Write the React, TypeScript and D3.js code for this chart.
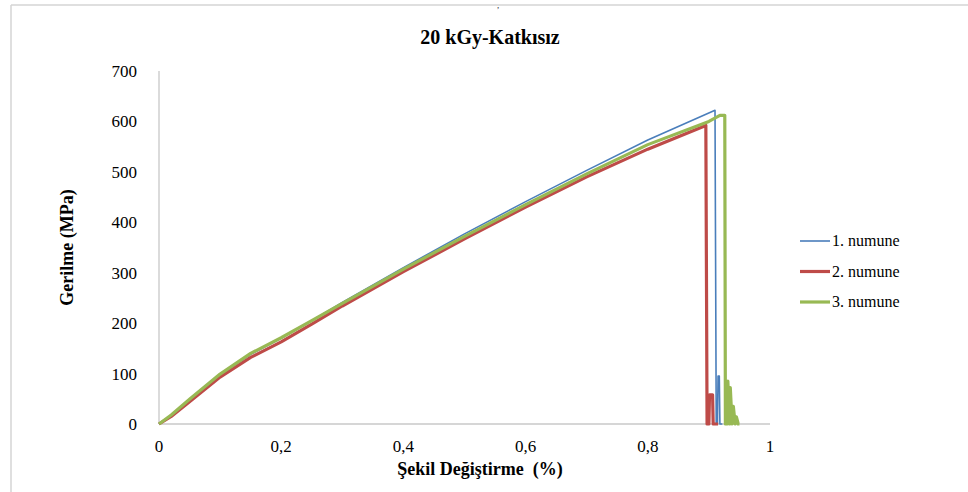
import React from "react";
import * as d3 from "d3";

// Stress–strain data for three unfilled samples irradiated at 20 kGy
const strain1 = [0, 0.02, 0.05, 0.1, 0.15, 0.2, 0.25, 0.3, 0.4, 0.5, 0.6, 0.7, 0.8, 0.91, 0.912, 0.914, 0.915, 0.917, 0.918, 0.922];
const stress1 = [0, 17, 47, 97, 138, 170, 205, 241, 310, 377, 441, 503, 563, 622, 0, 0, 95, 95, 0, 0];

const strain2 = [0, 0.02, 0.05, 0.1, 0.15, 0.2, 0.25, 0.3, 0.4, 0.5, 0.6, 0.7, 0.8, 0.895, 0.897, 0.9, 0.901, 0.906, 0.907, 0.915];
const stress2 = [0, 15, 44, 93, 132, 163, 198, 234, 302, 367, 430, 490, 545, 592, 0, 0, 58, 58, 0, 0];

const strain3 = [0, 0.02, 0.05, 0.1, 0.15, 0.2, 0.25, 0.3, 0.4, 0.5, 0.6, 0.7, 0.8, 0.9, 0.918, 0.926, 0.927, 0.93, 0.931, 0.934, 0.935, 0.938, 0.94, 0.943, 0.945, 0.948, 0.95];
const stress3 = [0, 18, 49, 99, 140, 171, 205, 239, 307, 372, 435, 496, 554, 600, 612, 612, 0, 0, 85, 0, 72, 0, 35, 0, 14, 0, 0];

const seriesNames = ["1. numune", "2. numune", "3. numune"];
const seriesColors = ["#4a7ebb", "#be4b48", "#98b954"];
const seriesWidths = [1.6, 3.2, 3.2];

const xTicks = [0, 0.2, 0.4, 0.6, 0.8, 1];
const yTicks = [0, 100, 200, 300, 400, 500, 600, 700];

const W = 968;
const H = 492;
const plot = { left: 159, right: 770, top: 71, bottom: 424 };
const FONT = "'Liberation Serif', 'Times New Roman', Times, serif";

export default function App() {
  const x = d3.scaleLinear().domain([0, 1]).range([plot.left, plot.right]);
  const y = d3.scaleLinear().domain([0, 700]).range([plot.bottom, plot.top]);

  const series = [
    strain1.map((s, i) => [s, stress1[i]] as [number, number]),
    strain2.map((s, i) => [s, stress2[i]] as [number, number]),
    strain3.map((s, i) => [s, stress3[i]] as [number, number]),
  ];

  const line = d3
    .line<[number, number]>()
    .x((d) => x(d[0]))
    .y((d) => y(d[1]))
    .curve(d3.curveLinear);

  const fmtX = (v: number) => (v === 0 || v === 1 ? String(v) : v.toFixed(1).replace(".", ","));

  return (
    <svg
      width={W}
      height={H}
      style={{ position: "absolute", left: 0, top: 0, background: "#fff", fontFamily: FONT }}
    >
      {/* frame */}
      <text x={497} y={8} fontSize={9} fill="#333">,</text>
      <line x1={11} y1={5} x2={W} y2={5} stroke="#d4d4d4" strokeWidth={1.5} />
      <line x1={11} y1={5} x2={11} y2={H} stroke="#d4d4d4" strokeWidth={1.5} />

      <text x={490} y={44} textAnchor="middle" fontSize={20} fontWeight="bold" fill="#000">
        20 kGy-Katkısız
      </text>

      {/* axes */}
      <line x1={plot.left} y1={plot.top} x2={plot.left} y2={plot.bottom} stroke="#c8c8c8" strokeWidth={1.3} />
      <line x1={plot.left} y1={plot.bottom} x2={plot.right} y2={plot.bottom} stroke="#c8c8c8" strokeWidth={1.3} />

      {yTicks.map((t) => (
        <text key={t} x={137} y={y(t) + 6} textAnchor="end" fontSize={17} fill="#000">
          {t}
        </text>
      ))}
      {xTicks.map((t) => (
        <text key={t} x={x(t)} y={452} textAnchor="middle" fontSize={17} fill="#000">
          {fmtX(t)}
        </text>
      ))}

      <text x={480} y={475} textAnchor="middle" fontSize={18} fontWeight="bold" fill="#000" style={{ whiteSpace: "pre" }}>
        Şekil Değiştirme  (%)
      </text>
      <text
        transform={`translate(73, ${(plot.top + plot.bottom) / 2}) rotate(-90)`}
        textAnchor="middle"
        fontSize={18}
        fontWeight="bold"
        fill="#000"
      >
        Gerilme (MPa)
      </text>

      {/* curves */}
      {series.map((s, i) => (
        <path
          key={i}
          d={line(s) || ""}
          fill="none"
          stroke={seriesColors[i]}
          strokeWidth={seriesWidths[i]}
          strokeLinejoin="round"
        />
      ))}

      {/* legend */}
      {seriesNames.map((n, i) => {
        const ly = 241 + i * 30.5;
        return (
          <g key={n}>
            <line x1={800} y1={ly} x2={830} y2={ly} stroke={seriesColors[i]} strokeWidth={seriesWidths[i]} />
            <text x={832} y={ly + 5} fontSize={16} fill="#000">
              {n}
            </text>
          </g>
        );
      })}
    </svg>
  );
}
